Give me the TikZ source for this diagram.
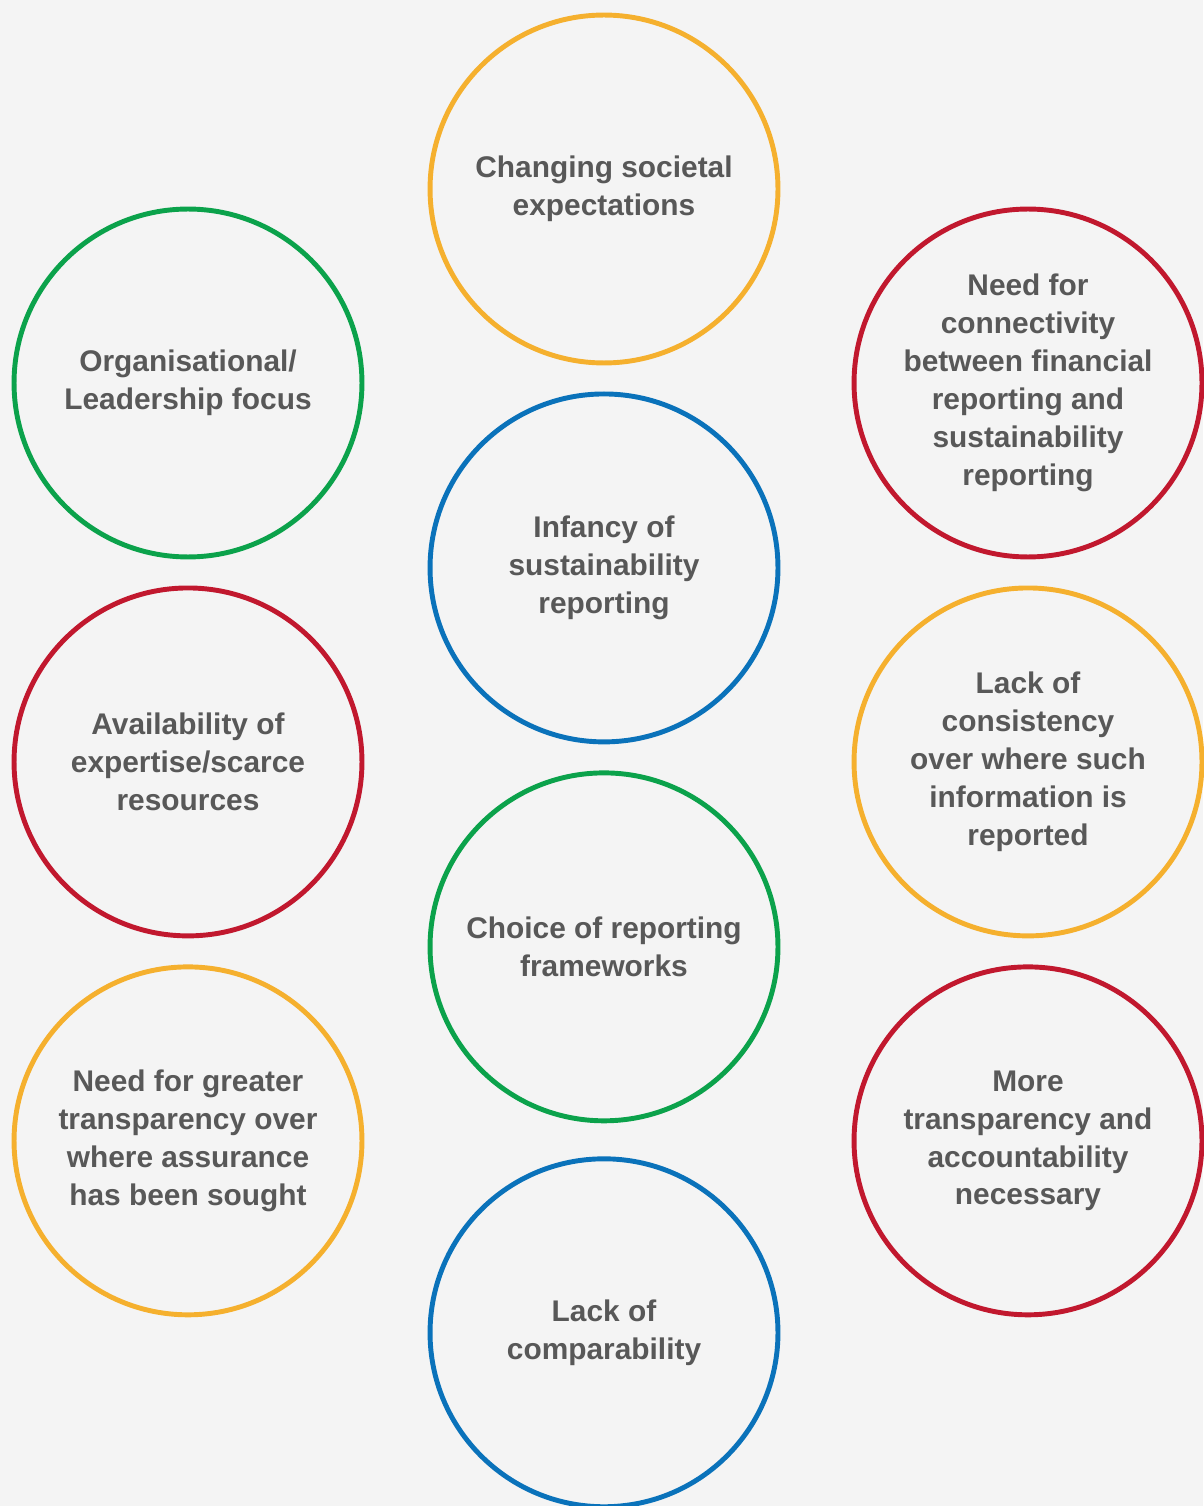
\documentclass[tikz,border=0pt]{standalone}
\usepackage{fontspec}
\setmainfont{Liberation Sans}
\usepackage{xcolor}
\usetikzlibrary{positioning}

\definecolor{bggray}{HTML}{F4F4F4}
\definecolor{txtgray}{HTML}{585858}
\definecolor{ambr}{HTML}{F5B02E}
\definecolor{rd}{HTML}{C1182E}
\definecolor{bl}{HTML}{0A72BA}
\definecolor{gr}{HTML}{0BA24B}

\begin{document}
\begin{tikzpicture}[
  x=0.02cm, y=-0.02cm,
  node distance=0.62cm and 1.36cm,
  font=\bfseries\fontsize{17}{21.6}\selectfont,
  issue/.style={circle, draw, line width=2.8pt, minimum size=6.96cm, inner sep=0pt, outer sep=0pt, align=center, text=txtgray},
  yel/.style={issue, draw=ambr},
  red/.style={issue, draw=rd},
  blu/.style={issue, draw=bl},
  grn/.style={issue, draw=gr}
]
% canvas
\fill[bggray] (0,0) rectangle (1203,1506);
\useasboundingbox (0,0) rectangle (1203,1506);
% centre column
\node[yel] (societal) at (604,189) {Changing societal\\ expectations};
\node[blu, below=of societal] (infancy) {Infancy of\\ sustainability\\ reporting};
\node[grn, below=of infancy] (frameworks) {Choice of reporting\\ frameworks};
\node[blu, below=0.76cm of frameworks] (compare) {Lack of\\ comparability};
% left column
\node[grn] (leader) at (188,383) {Organisational/\\ Leadership focus};
\node[red, below=of leader] (expertise) {Availability of\\ expertise/scarce\\ resources};
\node[yel, below=of expertise] (assurance) {Need for greater\\ transparency over\\ where assurance\\ has been sought};
% right column
\node[red] (connect) at (1028,383) {Need for\\ connectivity\\ between financial\\ reporting and\\ sustainability\\ reporting};
\node[yel, below=of connect] (consist) {Lack of\\ consistency\\ over where such\\ information is\\ reported};
\node[red, below=of consist] (account) {More\\ transparency and\\ accountability\\ necessary};
\end{tikzpicture}
\end{document}
